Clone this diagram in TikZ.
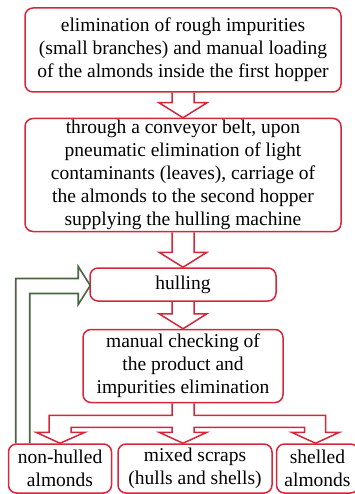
\documentclass[tikz,border=0pt]{standalone}
\usepackage{fontspec}
\setmainfont{Liberation Serif}
\usetikzlibrary{positioning,calc}
\definecolor{boxred}{RGB}{212,40,58}
\definecolor{loopgreen}{RGB}{72,100,66}
\tikzstyle{block} = [
	draw=boxred,
	line width=1.5pt,
	rounded corners=8pt,
	align=center,
	inner sep=0pt,
	font=\fontsize{19.5}{23}\selectfont
]
\tikzstyle{flow} = [draw=boxred, line width=1.5pt, line join=miter]
\tikzstyle{back} = [draw=loopgreen, line width=1.6pt, line join=miter]

% hollow arrow from the bottom of one box to the top of the next
\newcommand{\flowarrow}[2]{%
	\draw[flow] let \p1=(#1.south), \p2=(#2.north) in
		(\x1-11pt,\y1) -- (\x1-11pt,\y2+15pt) -- (\x1-24pt,\y2+15pt) -- (\x1,\y2)
		-- (\x1+24pt,\y2+15pt) -- (\x1+11pt,\y2+15pt) -- (\x1+11pt,\y1);}

\begin{document}
\begin{tikzpicture}[x=1pt,y=-1pt]
	\useasboundingbox (0,0) rectangle (355,494);

	\node[block, minimum width=316pt, minimum height=84pt] (rough) at (183,50)
		{elimination of rough impurities\\(small branches) and manual loading\\of the almonds inside the first hopper};
	\node[block, minimum width=316pt, minimum height=113pt, below=25pt of rough] (belt)
		{through a conveyor belt, upon\\pneumatic elimination of light\\contaminants (leaves), carriage of\\the almonds to the second hopper\\supplying the hulling machine};
	\node[block, minimum width=186pt, minimum height=33pt, below=35pt of belt] (hulling) {hulling};
	\node[block, minimum width=200pt, minimum height=73pt, below=27pt of hulling] (check)
		{manual checking of\\the product and\\impurities elimination};

	% output products
	\node[block, minimum width=154pt, minimum height=49pt] (scraps) at (195,468.5)
		{mixed scraps\\(hulls and shells)};
	\node[block, minimum width=103pt, minimum height=49pt, left=5pt of scraps] (nonhulled)
		{non-hulled\\almonds};
	\node[block, minimum width=82pt, minimum height=49pt, right=3pt of scraps] (shelled)
		{shelled\\almonds};

	\flowarrow{rough}{belt}
	\flowarrow{belt}{hulling}
	\flowarrow{hulling}{check}

	% split towards the three products
	\draw[flow] let \p1=(check.south), \p2=(nonhulled.north), \p3=(shelled.north) in
		(\x1-11pt,\y1) -- (\x1-11pt,\y1-12pt) -- (\x2-11pt,\y1-12pt)
		-- (\x2-11pt,\y2+11pt) -- (\x2-24pt,\y2+11pt) -- (\x2,\y2) -- (\x2+25pt,\y2+11pt)
		-- (\x2+11pt,\y2+11pt) -- (\x2+11pt,\y1-24pt)
		-- (\x1-11pt,\y1-24pt) -- (\x1-11pt,\y2+11pt) -- (\x1-24pt,\y2+11pt) -- (\x1,\y2)
		-- (\x1+24pt,\y2+11pt) -- (\x1+11pt,\y2+11pt) -- (\x1+11pt,\y1-24pt)
		-- (\x3-13pt,\y1-24pt) -- (\x3-13pt,\y2+11pt) -- (\x3-26pt,\y2+11pt) -- (\x3-2pt,\y2)
		-- (\x3+22pt,\y2+11pt) -- (\x3+8pt,\y2+11pt) -- (\x3+8pt,\y1-12pt)
		-- (\x1+11pt,\y1-12pt) -- (\x1+11pt,\y1);

	% non-hulled almonds go back to the huller
	\draw[back] let \p1=(nonhulled.north west), \p2=(hulling.west) in
		(\x1+8pt,\y1) -- (\x1+8pt,\y2+6pt) -- (\x2-11pt,\y2+6pt) -- (\x2-11pt,\y2+18pt)
		-- (\x2+1pt,\y2-1pt) -- (\x2-11pt,\y2-20pt) -- (\x2-11pt,\y2-9pt)
		-- (\x1+22pt,\y2-9pt) -- (\x1+22pt,\y1);
\end{tikzpicture}
\end{document}
